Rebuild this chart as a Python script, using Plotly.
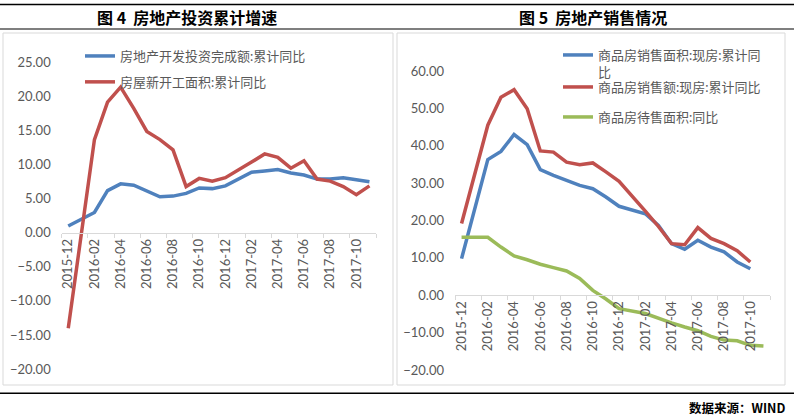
import plotly.graph_objects as go

W, H = 794, 416

months = ["2015-12", "2016-01", "2016-02", "2016-03", "2016-04", "2016-05", "2016-06",
          "2016-07", "2016-08", "2016-09", "2016-10", "2016-11", "2016-12", "2017-01",
          "2017-02", "2017-03", "2017-04", "2017-05", "2017-06", "2017-07", "2017-08",
          "2017-09", "2017-10", "2017-11"]

# 图4
invest_yoy = [1.0, None, 3.0, 6.2, 7.2, 7.0, 6.1, 5.3, 5.4, 5.8, 6.6, 6.5, 6.9, None,
              8.9, 9.1, 9.3, 8.8, 8.5, 7.9, 7.9, 8.1, 7.8, 7.5]
newstart_yoy = [-14.0, None, 13.7, 19.2, 21.4, 18.3, 14.9, 13.7, 12.2, 6.8, 8.0, 7.6, 8.1, None,
                10.4, 11.6, 11.1, 9.5, 10.6, 7.9, 7.6, 6.8, 5.6, 6.9]

# 图5
sale_area_yoy = [9.8, None, 36.3, 38.5, 43.0, 40.3, 33.6, 32.1, 30.7, 29.4, 28.5, 26.3, 23.8, None,
                 21.8, 18.7, 13.8, 12.3, 14.7, 12.9, 11.6, 8.9, 7.1, None]
sale_amount_yoy = [19.2, None, 45.5, 53.0, 55.0, 49.9, 38.6, 38.3, 35.6, 34.9, 35.4, 33.0, 30.5, None,
                   22.5, 18.4, 13.8, 13.5, 18.1, 15.2, 13.8, 11.9, 8.9, None]
unsold_yoy = [15.5, None, 15.5, 12.9, 10.5, 9.5, 8.3, 7.4, 6.5, 4.5, 1.3, -1.0, -3.6, None,
              -4.9, -6.2, -7.4, -8.5, -9.5, -11.0, -12.0, -12.2, -13.4, -13.6]

names4 = ["房地产开发投资完成额:累计同比", "房屋新开工面积:累计同比"]
names5 = ["商品房销售面积:现房:累计同<br>比", "商品房销售额:现房:累计同比", "商品房待售面积:同比"]
title4 = "图 4  房地产投资累计增速"
title5 = "图 5  房地产销售情况"
source = "数据来源：WIND"

BLUE, RED, GREEN = "#4f81bd", "#c0504d", "#9bbb59"
GRAY = "#595959"
FONT = "Lato, 'Noto Sans CJK SC', sans-serif"

def px(x):
    return x / W

def py(y):
    return (H - y) / H

fig = go.Figure()
for i, (vals, col) in enumerate([(invest_yoy, BLUE), (newstart_yoy, RED)]):
    fig.add_trace(go.Scatter(x=months, y=vals, name=names4[i], mode="lines",
                             line=dict(color=col, width=3.5), connectgaps=True,
                             xaxis="x", yaxis="y", legend="legend", legendgroup="a%d" % i))
right_legends = ["legend2", "legend3", "legend4"]
for i, (vals, col) in enumerate([(sale_area_yoy, BLUE), (sale_amount_yoy, RED), (unsold_yoy, GREEN)]):
    fig.add_trace(go.Scatter(x=months, y=vals, name=names5[i], mode="lines",
                             line=dict(color=col, width=3.5), connectgaps=True,
                             xaxis="x2", yaxis="y2", legend=right_legends[i]))

xcommon = dict(type="category", categoryorder="array", categoryarray=months,
               range=[-0.5, 23.5], dtick=2, tickson="boundaries", ticks="outside",
               ticklen=4, tickcolor="#d9d9d9", showline=True, linecolor="#d9d9d9",
               linewidth=1, tickangle=-90, showgrid=False, zeroline=False, automargin=False,
               tickfont=dict(size=13, color=GRAY, family=FONT), anchor="free")
ycommon = dict(showgrid=False, zeroline=False, showline=False, ticks="", automargin=False,
               tickformat=".2f", tickfont=dict(size=13, color=GRAY, family=FONT),
               ticklabelstandoff=10)

legfont = dict(size=13, color=GRAY, family=FONT)

def rleg(top):
    return dict(x=px(558), y=py(top), xanchor="left", yanchor="top", bgcolor="rgba(0,0,0,0)",
                font=legfont, itemwidth=30, valign="top")

fig.update_layout(
    width=W, height=H, margin=dict(l=0, r=0, t=0, b=0, autoexpand=False),
    paper_bgcolor="white", plot_bgcolor="white",
    font=dict(family=FONT, color=GRAY),
    xaxis=dict(xcommon, domain=[px(61.7), px(376)], position=py(232.7)),
    yaxis=dict(ycommon, domain=[py(369), py(62.7)], range=[-20, 25], dtick=5, anchor="x"),
    xaxis2=dict(xcommon, domain=[px(455), px(770)], position=py(295)),
    yaxis2=dict(ycommon, domain=[py(370), py(71)], range=[-20, 60], dtick=10, anchor="x2"),
    legend=dict(x=px(80), y=py(41), xanchor="left", yanchor="top", bgcolor="rgba(0,0,0,0)",
                font=legfont, traceorder="grouped", tracegroupgap=6, itemwidth=30),
    legend2=rleg(40),
    legend3=rleg(72),
    legend4=rleg(102),
    showlegend=True,
)

shapes = [
    dict(type="rect", xref="paper", yref="paper", x0=px(3), x1=px(393), y0=py(385), y1=py(33),
         line=dict(color="#d9d9d9", width=1)),
    dict(type="rect", xref="paper", yref="paper", x0=px(397), x1=px(785), y0=py(385), y1=py(33),
         line=dict(color="#d9d9d9", width=1)),
    dict(type="line", xref="paper", yref="paper", x0=0, x1=1, y0=py(4.5), y1=py(4.5),
         line=dict(color="black", width=1.5)),
    dict(type="line", xref="paper", yref="paper", x0=0, x1=1, y0=py(29), y1=py(29),
         line=dict(color="black", width=1.2)),
    dict(type="line", xref="paper", yref="paper", x0=0, x1=1, y0=py(393.3), y1=py(393.3),
         line=dict(color="black", width=1.5)),
]
fig.update_layout(shapes=shapes)

fig.add_annotation(text="<b>%s</b>" % title4, xref="paper", yref="paper", x=px(187), y=py(17),
                   xanchor="center", yanchor="middle", showarrow=False,
                   font=dict(size=16, color="black", family="'Noto Sans CJK SC', sans-serif"))
fig.add_annotation(text="<b>%s</b>" % title5, xref="paper", yref="paper", x=px(593), y=py(17),
                   xanchor="center", yanchor="middle", showarrow=False,
                   font=dict(size=16, color="black", family="'Noto Sans CJK SC', sans-serif"))
fig.add_annotation(text="<b>%s</b>" % source, xref="paper", yref="paper", x=px(787), y=py(407),
                   xanchor="right", yanchor="middle", showarrow=False,
                   font=dict(size=12.5, color="black", family="'Noto Sans CJK SC', sans-serif"))

fig.write_html("out.html", config={"displayModeBar": False},
               post_script="document.body.style.margin='0px';document.body.style.overflow='hidden';")
